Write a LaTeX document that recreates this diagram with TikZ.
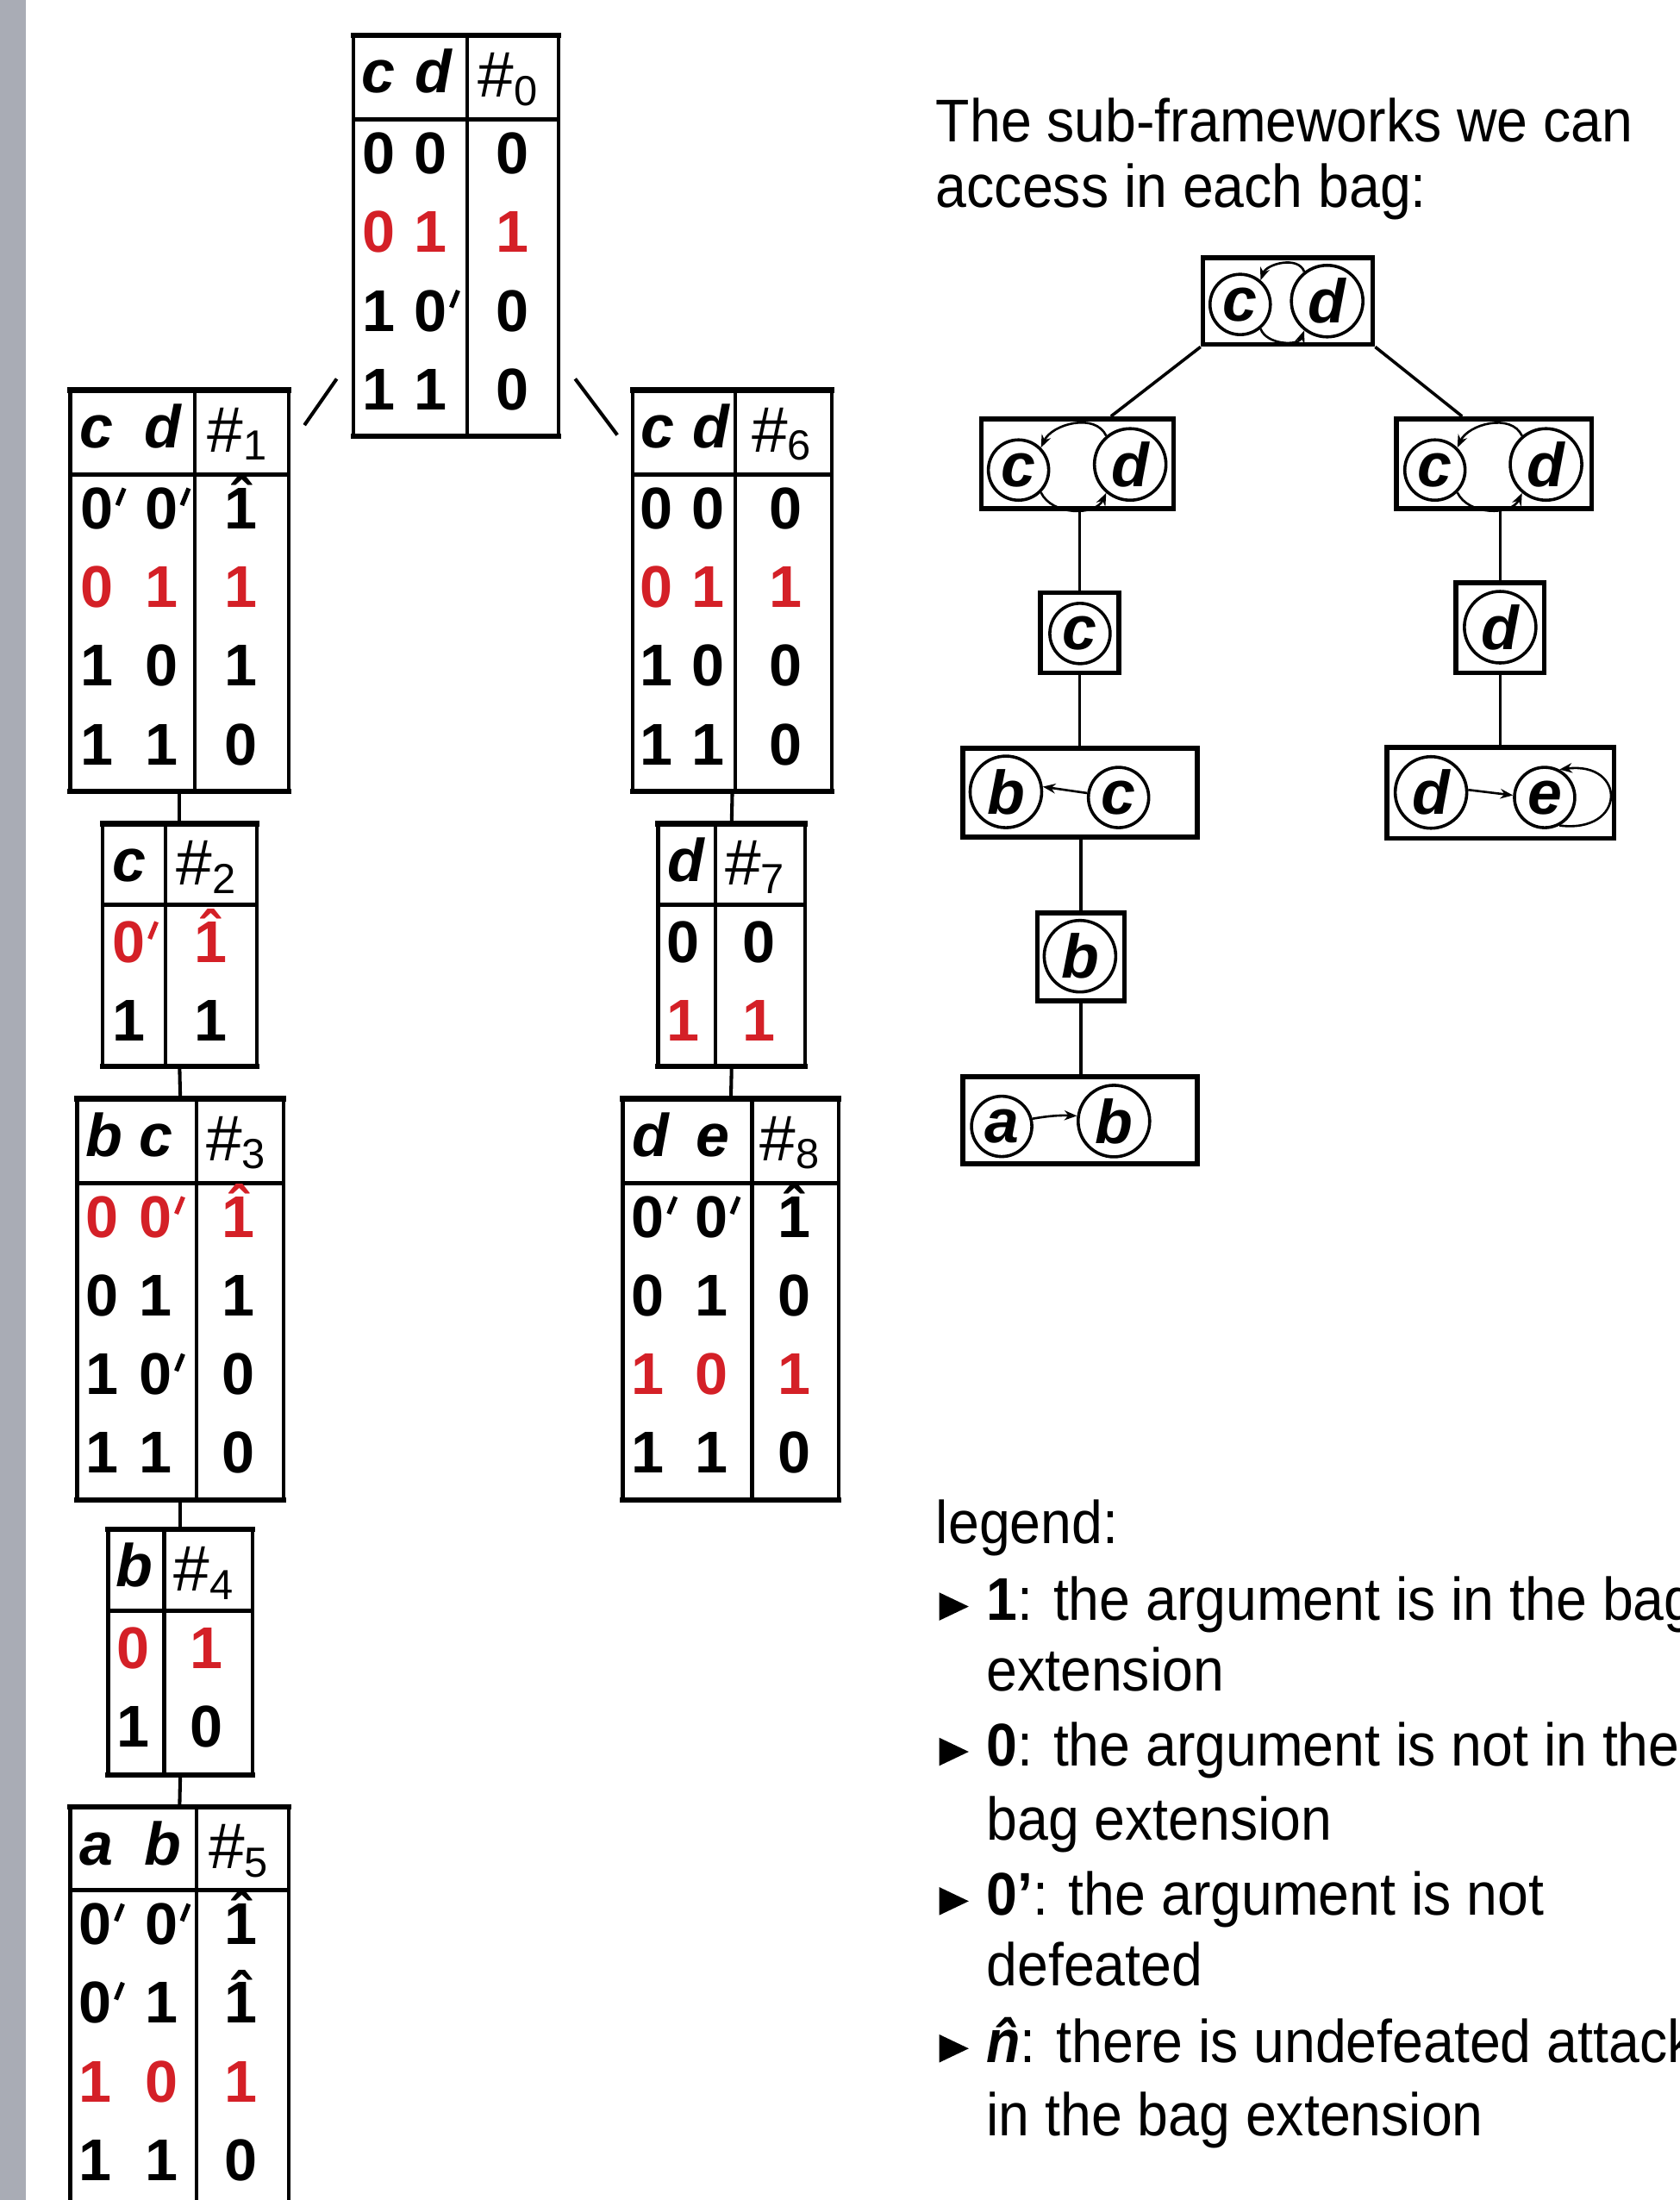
\documentclass[tikz,border=0pt]{standalone}
\usepackage{fontspec}
\usepackage{graphicx}
\setmainfont{Liberation Sans}[FakeStretch=0.92]
\newfontfamily\tabfont{Liberation Sans}
\usetikzlibrary{fit,calc,arrows.meta}
\definecolor{tabred}{RGB}{212,32,39}
\definecolor{barcol}{RGB}{169,172,181}
\newcommand\zp{0\rlap{\hspace{1.5pt}\raisebox{17.5pt}{\rotatebox{-22}{\rule{3.2pt}{13pt}}}}}
\newcommand\hone{\accent"02C6 1}
\newcommand\hsub[1]{{\mdseries\fontsize{46}{46}\selectfont\#}\raisebox{-6pt}{\mdseries\fontsize{30}{30}\selectfont #1}}
\tikzset{
  tabframe/.style={draw, line width=2.7pt, inner sep=0pt, outer sep=0pt},
  tabthick/.style={line width=3.9pt, line cap=rect},
  tabsep/.style={line width=3.1pt},
  tabdiv/.style={line width=2.7pt},
  cell/.style={anchor=base, inner sep=0pt, font=\tabfont\bfseries\fontsize{42}{42}\selectfont},
  hcell/.style={cell, font=\tabfont\bfseries\itshape\fontsize{43}{43}\selectfont},
  rcell/.style={cell, text=tabred},
  link/.style={line width=2.5pt},
  fbox/.style={draw, line width=3.5pt, inner sep=0pt},
  arg/.style={circle, draw, line width=2.2pt, inner sep=0pt, font=\tabfont\bfseries\itshape\fontsize{44}{44}\selectfont},
  sarg/.style={arg, minimum size=43pt},
  barg/.style={arg, minimum size=51pt},
  att/.style={line width=1.6pt, -{Stealth[length=9pt,width=7pt]}},
  tedge/.style={line width=2.2pt},
  txt/.style={inner sep=0pt, anchor=base west, font=\fontsize{43}{43}\selectfont},
}
% table frame: name, x-left, x-divider, x-right, y-top, y-header, y-bottom (y downwards)
\newcommand\tframe[7]{%
  \node[tabframe, fit={(#2,-#5) (#4,-#7)}] (#1) {};
  \draw[tabthick] (#2,-#5) -- (#4,-#5) (#2,-#7) -- (#4,-#7);
  \draw[tabsep] (#2,-#6) -- (#4,-#6);
  \draw[tabdiv] (#3,-#5) -- (#3,-#7);
}
% row of cells: name, style, baseline, list x/text
\newcommand\trow[4]{%
  \foreach \cx/\ct [count=\ci] in {#4} {\node[#2] (#1c\ci) at (\cx,-#3) {\ct};}
}
\newcommand\bul[1]{\fill (669.5,-#1+20) -- (669.5,-#1) -- (690.5,-#1+10) -- cycle;}
\begin{document}
\begin{tikzpicture}[x=1pt,y=1pt]
\useasboundingbox (0,0) rectangle (1197,-1568);
\clip (0,0) rectangle (1197,-1568);
\fill[white] (0,0) rectangle (1197,-1568);
\fill[barcol] (0,0) rectangle (18.4,-1568);

% ---------- tables ----------
\tframe{t0}{252}{333}{398}{25}{85}{311}
\trow{t0h}{hcell}{66}{270/c,309/d}
\node[cell] (t0n) at (362,-69) {\hsub{0}};
\trow{t0a}{cell}{124}{270/0,307/0,365/0}
\trow{t0b}{rcell}{180}{270/0,307/1,365/1}
\trow{t0c}{cell}{236}{270/1,307/\zp,365/0}
\trow{t0d}{cell}{292}{270/1,307/1,365/0}

\tframe{t1}{50}{139}{206}{278}{338}{564}
\trow{t1h}{hcell}{319}{69/c,116/d}
\node[cell] (t1n) at (169,-322) {\hsub{1}};
\trow{t1a}{cell}{377}{69/\zp,115/\zp,172/\hone}
\trow{t1b}{rcell}{433}{69/0,115/1,172/1}
\trow{t1c}{cell}{489}{69/1,115/0,172/1}
\trow{t1d}{cell}{545}{69/1,115/1,172/0}

\tframe{t2}{73}{118}{183}{587}{645}{760}
\trow{t2h}{hcell}{628}{92/c}
\node[cell] (t2n) at (147,-631) {\hsub{2}};
\trow{t2a}{rcell}{686}{92/\zp,150/\hone}
\trow{t2b}{cell}{742}{92/1,150/1}

\tframe{t3}{55}{140}{202}{783}{843}{1069}
\trow{t3h}{hcell}{824}{74/b,111/c}
\node[cell] (t3n) at (168,-827) {\hsub{3}};
\trow{t3a}{rcell}{882}{73/0,111/\zp,170/\hone}
\trow{t3b}{cell}{938}{73/0,111/1,170/1}
\trow{t3c}{cell}{994}{73/1,111/\zp,170/0}
\trow{t3d}{cell}{1050}{73/1,111/1,170/0}

\tframe{t4}{77}{117}{180}{1090}{1148}{1265}
\trow{t4h}{hcell}{1131}{96/b}
\node[cell] (t4n) at (145,-1134) {\hsub{4}};
\trow{t4a}{rcell}{1189}{95/0,147/1}
\trow{t4b}{cell}{1245}{95/1,147/0}

\tframe{t5}{50}{140}{206}{1288}{1347}{1580}
\trow{t5h}{hcell}{1329}{69/a,116/b}
\node[cell] (t5n) at (170,-1332) {\hsub{5}};
\trow{t5a}{cell}{1386}{68/\zp,115/\zp,172/\hone}
\trow{t5b}{cell}{1442}{68/\zp,115/1,172/\hone}
\trow{t5c}{rcell}{1498}{68/1,115/0,172/1}
\trow{t5d}{cell}{1554}{68/1,115/1,172/0}

\tframe{t6}{451}{524}{593}{278}{338}{564}
\trow{t6h}{hcell}{319}{469/c,507/d}
\node[cell] (t6n) at (557,-322) {\hsub{6}};
\trow{t6a}{cell}{377}{468/0,505/0,560/0}
\trow{t6b}{rcell}{433}{468/0,505/1,560/1}
\trow{t6c}{cell}{489}{468/1,505/0,560/0}
\trow{t6d}{cell}{545}{468/1,505/1,560/0}

\tframe{t7}{469}{510}{574}{587}{645}{760}
\trow{t7h}{hcell}{628}{489/d}
\node[cell] (t7n) at (538,-631) {\hsub{7}};
\trow{t7a}{cell}{686}{487/0,541/0}
\trow{t7b}{rcell}{742}{487/1,541/1}

\tframe{t8}{444}{536}{598}{783}{843}{1069}
\trow{t8h}{hcell}{824}{464/d,508/e}
\node[cell] (t8n) at (563,-827) {\hsub{8}};
\trow{t8a}{cell}{882}{462/\zp,507/\zp,566/\hone}
\trow{t8b}{cell}{938}{462/0,507/1,566/0}
\trow{t8c}{rcell}{994}{462/1,507/0,566/1}
\trow{t8d}{cell}{1050}{462/1,507/1,566/0}

% table connectors
\draw[link] (t1.south) -- (t2.north);
\draw[link] (t2.south) -- (t3.north);
\draw[link] (t3.south) -- (t4.north);
\draw[link] (t4.south) -- (t5.north);
\draw[link] (t6.south) -- (t7.north);
\draw[link] (t7.south) -- (t8.north);
\coordinate (dlA) at ($(t0.south west)+(-12,41)$);
\coordinate (dlB) at ($(t1.north east)+(11,-25)$);
\coordinate (drA) at ($(t0.south east)+(12,41)$);
\coordinate (drB) at ($(t6.north west)+(-11,-32)$);
\draw[link] (dlA) -- (dlB);
\draw[link] (drA) -- (drB);

% ---------- text ----------
\node[txt] (title1) at (667,-101) {The sub-frameworks we can};
\node[txt] (title2) at (667,-148) {access in each bag:};

% ---------- sub-framework tree ----------
\node[fbox, minimum width=121pt, minimum height=62pt] (R0) at (918,-214.5) {};
\node[sarg] (c0) at (884,-217) {c};
\node[barg] (d0) at (946,-214.6) {d};
\draw[att] (d0.128) to[out=110,in=70] (c0.50);
\draw[att] (c0.-50) to[out=-70,in=-110] (d0.-128);

\node[fbox, minimum width=137pt, minimum height=64pt] (L1) at (768,-330.5) {};
\node[sarg] (c1) at (726,-335) {c};
\node[barg] (d1) at (805.6,-331) {d};
\draw[att] (d1.130) to[out=115,in=65] (c1.45);
\draw[att] (c1.-45) to[out=-65,in=-115] (d1.-130);

\node[fbox, minimum width=139pt, minimum height=64pt] (R1) at (1065,-330.5) {};
\node[sarg] (c1r) at (1022.8,-335) {c};
\node[barg] (d1r) at (1102,-331) {d};
\draw[att] (d1r.130) to[out=115,in=65] (c1r.45);
\draw[att] (c1r.-45) to[out=-65,in=-115] (d1r.-130);

\node[fbox, minimum width=56pt, minimum height=57pt] (L2) at (769.5,-451) {};
\node[sarg] (c2) at (769.8,-451.5) {c};

\node[fbox, minimum width=63pt, minimum height=64pt] (R2) at (1069.3,-447.5) {};
\node[barg] (d2) at (1069.3,-447) {d};

\node[fbox, minimum width=167pt, minimum height=63pt] (L3) at (770,-565) {};
\node[barg] (b3) at (717,-564.4) {b};
\node[sarg] (c3) at (797.3,-568.4) {c};
\draw[att] (c3.172) -- (b3.8);

\node[fbox, minimum width=162pt, minimum height=65pt] (R3) at (1069.5,-565) {};
\node[barg] (d3) at (1020,-564.8) {d};
\node[sarg] (e3) at (1101,-568.4) {e};
\draw[att] (d3.4) -- (e3.176);
\draw[att] (e3.-62) .. controls +(48,-6) and +(48,6) .. (e3.62);

\node[fbox, minimum width=62pt, minimum height=63pt] (L4) at (770.5,-682) {};
\node[barg] (b4) at (769.8,-681.5) {b};

\node[fbox, minimum width=167pt, minimum height=62pt] (L5) at (770,-798.5) {};
\node[sarg] (a5) at (714,-802.8) {a};
\node[barg] (b5) at (794,-799) {b};
\draw[att] (a5.14) to[bend left=6] (b5.172);

\draw[tedge] (R0.south west) -- ($(L1.north west)!0.67!(L1.north east)$);
\draw[tedge] (R0.south east) -- ($(R1.north west)!0.34!(R1.north east)$);
\draw[tedge] (L1.south -| L2.north) -- (L2.north);
\draw[tedge] (L2.south) -- (L2.south |- L3.north);
\draw[tedge] (L3.south -| L4.north) -- (L4.north);
\draw[tedge] (L4.south) -- (L4.south |- L5.north);
\draw[tedge] (R1.south -| R2.north) -- (R2.north);
\draw[tedge] (R2.south) -- (R2.south |- R3.north);

% ---------- legend ----------
\node[txt] (leg) at (667,-1100) {legend:};
\bul{1155}
\node[txt] (l1a) at (703,-1155) {\textbf{1}: the argument is in the bag};
\node[txt] (l1b) at (703,-1205) {extension};
\bul{1258.5}
\node[txt] (l2a) at (703,-1258.5) {\textbf{0}: the argument is not in the};
\node[txt] (l2b) at (703,-1311.5) {bag extension};
\bul{1365}
\node[txt] (l3a) at (703,-1365) {\textbf{0’}: the argument is not};
\node[txt] (l3b) at (703,-1415) {defeated};
\bul{1470}
\node[txt] (l4a) at (703,-1470) {\textbf{\itshape\accent"02C6 n}: there is undefeated attack};
\node[txt] (l4b) at (703,-1522) {in the bag extension};
\end{tikzpicture}
\end{document}
